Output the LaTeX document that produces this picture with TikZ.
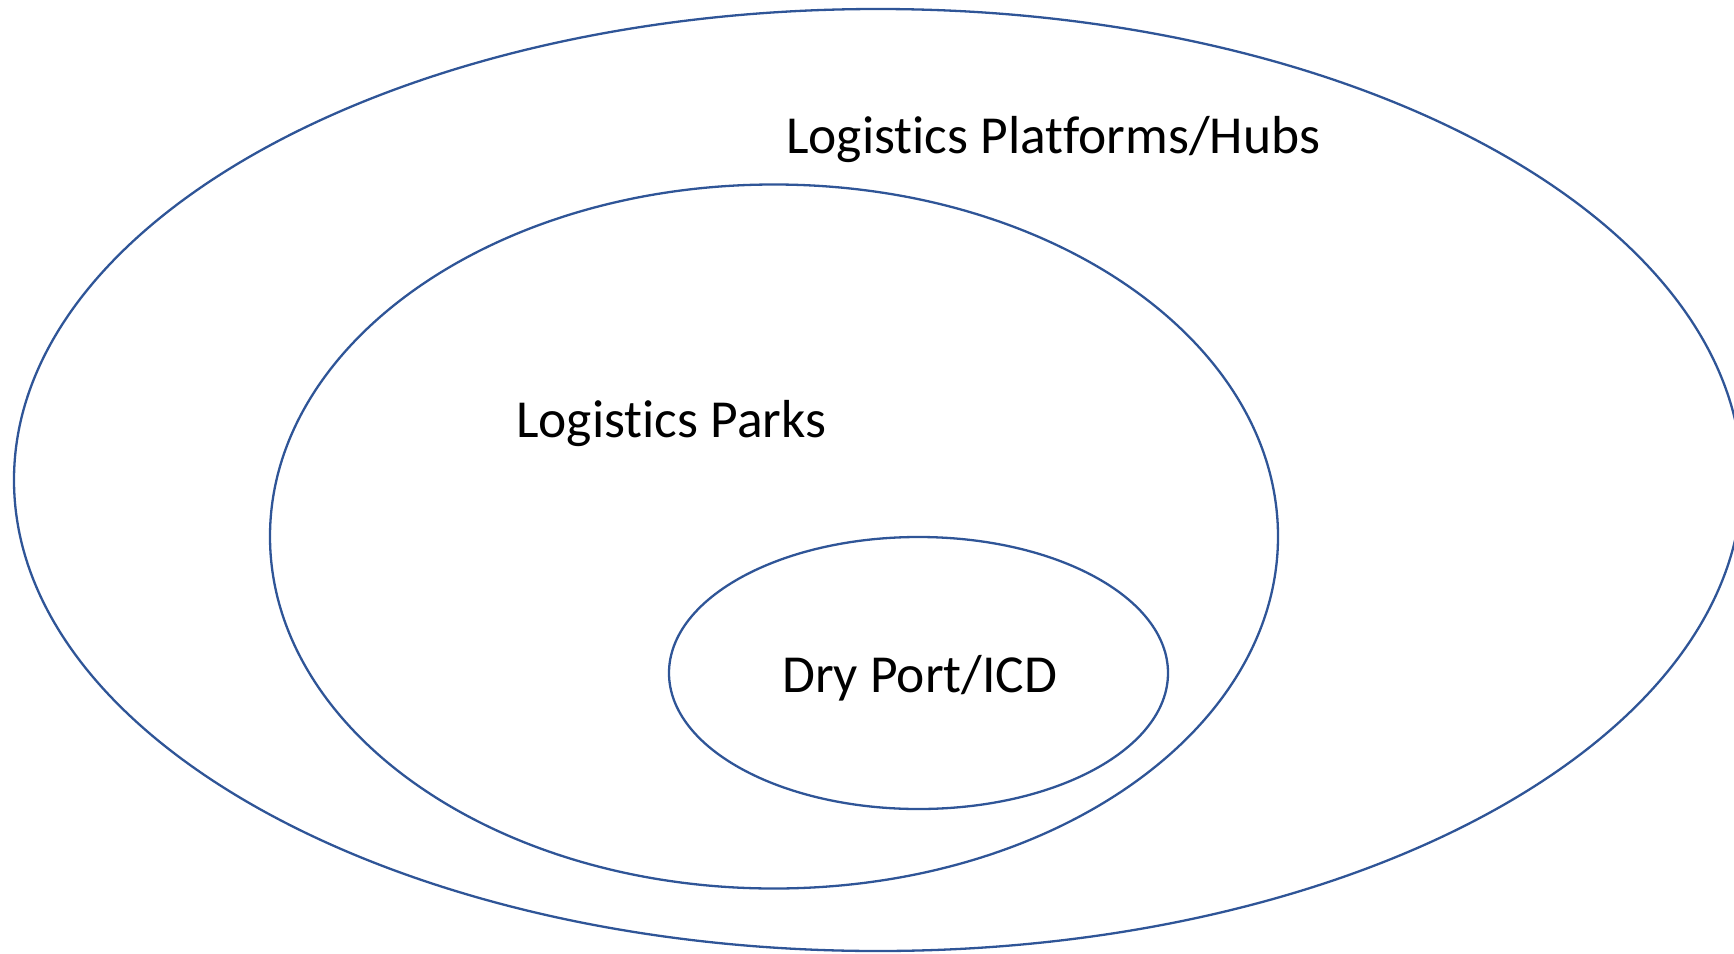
\documentclass[tikz,border=0pt]{standalone}
\usepackage{fontspec}
\setmainfont{Carlito}[Ligatures={NoCommon}]
\definecolor{ringblue}{HTML}{2F5597}
\begin{document}
\begin{tikzpicture}[x=1pt,y=-1pt,
  ring/.style={draw=ringblue,line width=2.3pt},
  lbl/.style={anchor=base west,inner sep=0pt,font=\fontsize{53.5}{60}\selectfont}]
\useasboundingbox (0,0) rectangle (1734,953);
\clip (0,0) rectangle (1734,953);
\draw[ring] (878,480) ellipse [x radius=864, y radius=471];
\draw[ring] (774,536.5) ellipse [x radius=504, y radius=352];
\draw[ring] (918.5,673) ellipse [x radius=249.5, y radius=136];
\node[lbl] (hubs) at (786,153) {Logistics Platforms/Hubs};
\node[lbl] (parks) at (516,437) {Logistics Parks};
\node[lbl] (dry) at (782,692) {Dry Port/ICD};
\end{tikzpicture}
\end{document}
